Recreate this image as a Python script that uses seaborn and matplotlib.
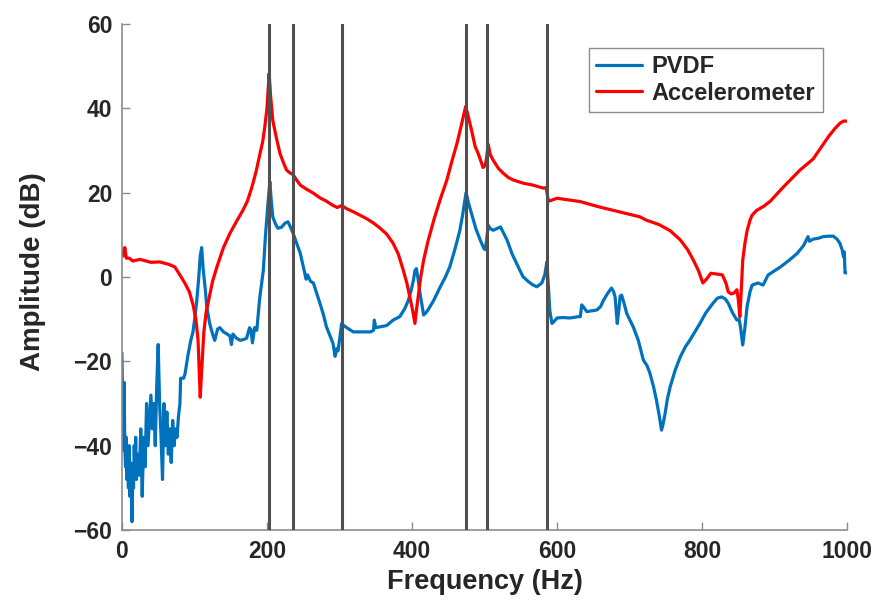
import numpy as np
import pandas as pd
import matplotlib
matplotlib.use("Agg")
import matplotlib.pyplot as plt
import seaborn as sns

# ---------------- data ----------------
acc_freq = [0, 2, 4, 6, 10, 15, 25, 40, 52, 65, 73, 80, 87, 93, 98, 102, 105, 108, 110,
            113, 116, 119, 125, 131, 140, 149, 158, 167, 173, 179, 185, 190, 194, 197,
            200, 203, 205, 208, 213, 218, 223, 227, 231, 236, 241, 246, 255, 264, 273,
            282, 291, 297, 303, 310, 319, 328, 338, 347, 356, 365, 374, 381, 388, 393,
            397, 401, 404, 406, 409, 412, 416, 422, 430, 439, 448, 455, 462, 468, 474,
            477, 482, 487, 491, 495, 498, 501, 503, 505, 508, 512, 519, 526, 533, 540,
            553, 567, 575, 581, 585, 588, 592, 600, 616, 632, 659, 690, 714, 723, 740,
            756, 770, 780, 788, 795, 801, 806, 812, 821, 828, 833, 836, 840, 844, 848,
            850, 852, 854, 856, 859, 862, 866, 869, 875, 885, 894, 910, 935, 953, 963,
            975, 983, 990, 995, 1000]
acc_db = [6.5, 5, 7, 4.5, 4.5, 3.8, 4.2, 3.5, 3.6, 3, 2.4, 0.5, -1.5, -3.5, -6.5, -10,
          -15, -28.5, -22, -13, -8.5, -6, -1, 2.4, 7, 10.4, 13.2, 15.9, 18, 21.2, 25, 29,
          32, 35.6, 40, 48.3, 43, 37.2, 33, 29.3, 27, 25.4, 24.8, 24.3, 23, 21.8, 20.8,
          19.9, 18.8, 18, 17, 16.5, 17, 16.2, 15.5, 14.7, 13.8, 12.8, 11.6, 10.2, 8, 5.5,
          1.6, -1.5, -4.7, -8, -11, -8, -3.9, 0, 4, 8.5, 13.5, 18.5, 23, 27.5, 31.7, 36,
          40.5, 38.5, 34.9, 31, 29.4, 27.5, 26, 26.5, 28.5, 31.5, 29, 27.7, 25.8, 24.6,
          23.6, 23, 22.3, 21.8, 21.4, 21.1, 21.2, 18, 18.2, 18.7, 18.3, 17.9, 16.6, 15.3,
          14.3, 13.5, 12.5, 11, 8.8, 6.5, 4, 1.5, -1.4, -0.5, 0.9, 0.7, 0.5, -1.5, -3.5,
          -4, -3.8, -3, -5.5, -9.4, -3, 4, 8, 11, 13.5, 14.7, 15.8, 16.8, 18, 21, 25.4,
          28, 30.5, 33.5, 35.2, 36.5, 37, 37]

pvdf_freq = [0, 1, 2, 3, 4, 5, 6, 7, 8, 9, 10, 11, 12, 13, 14, 15, 16, 17, 18, 19, 20,
             22, 24, 26, 28, 30, 32, 34, 36, 38, 40, 42, 44, 46, 48, 50, 52, 54, 56, 58,
             60, 62, 64, 66, 68, 70, 72, 74, 76, 78, 80, 81, 85, 87, 91, 95, 98, 101, 103,
             106, 108, 110, 112, 115, 117, 121, 125, 128, 132, 135, 140, 145, 149, 151,
             153, 158, 163, 168, 172, 176, 178, 180, 183, 186, 190, 193, 195, 198, 201,
             204, 206, 208, 212, 215, 220, 225, 229, 232, 236, 241, 246, 250, 252, 254,
             256, 260, 264, 268, 273, 278, 282, 286, 291, 294, 296, 298, 300, 303, 306,
             310, 319, 328, 338, 343, 347, 348, 350, 356, 365, 374, 383, 390, 395, 399,
             402, 404, 406, 408, 411, 414, 416, 419, 422, 430, 439, 446, 452, 459, 466,
             470, 474.5, 478, 482, 488, 494, 499, 501, 503, 505, 508, 512, 517, 522, 526,
             531, 538, 544, 549, 553, 560, 566, 572, 579, 583, 586, 588, 590, 593, 596,
             600, 608, 618, 625, 629, 632, 634, 636, 641, 648, 655, 660, 664, 670, 675,
             678, 680, 682, 683, 685, 687, 689, 692, 696, 700, 705, 712, 719, 724, 728,
             733, 737, 741, 744, 746, 749, 752, 756, 763, 770, 777, 783, 790, 797, 805,
             815, 821, 827, 832, 836, 842, 848, 851, 853, 856, 859, 862, 866, 869, 877,
             884, 891, 900, 908, 920, 931, 940, 946, 948, 953, 960, 967, 975, 981, 986,
             990, 993, 995, 996, 997, 1000]
pvdf_db = [-18, -30, -41, -25, -40, -45, -38, -48, -42, -50, -40, -52, -44, -47, -58,
           -45, -50, -40, -46, -38, -48, -42, -47, -36, -52, -38, -45, -30, -40, -34, -28,
           -36, -30, -40, -26, -16, -30, -38, -48, -30, -40, -32, -42, -36, -44, -34, -40,
           -36, -38, -33, -30, -24, -24, -23, -18.6, -15, -13, -9, -6, 0, 5, 7, 2, -3, -7,
           -11, -13.5, -15, -12.3, -12, -13, -13.5, -14, -16, -13.5, -14.5, -15, -14.8,
           -14.5, -12, -12.5, -15.6, -12, -12.6, -5, -1, 1.6, 10, 16.7, 22.6, 18, 14.3,
           12.5, 11.6, 11.8, 12.8, 13.1, 12, 10.4, 8, 5.6, 2.5, 1, -0.5, 0.5, -1, -1.4,
           -3.5, -6.2, -9, -11.8, -13.5, -15.7, -18.8, -17, -17.5, -15, -11, -11.5, -12,
           -13, -13, -13, -13, -12.6, -10.2, -12, -11.8, -11.5, -10.2, -9.4, -7.5, -5.5,
           -3, -0.7, 1.5, 2, 0, -3.8, -7, -9, -8.5, -7.8, -5.5, -2.3, 0, 2.4, 6.5, 11.1,
           15, 20, 17.5, 15.1, 11.5, 8.8, 6.8, 6.5, 9, 12.3, 11.5, 11.1, 11.5, 11.9, 10.5,
           8.8, 5.5, 3.3, 1.5, 0.1, -1, -1.8, -2.3, -1.4, 0.5, 3.6, -2, -8, -11, -10.5,
           -9.7, -9.6, -9.7, -9.5, -9.4, -9.4, -6.6, -7, -8.2, -8, -7.8, -7, -5.5, -3.8,
           -2.6, -3.5, -4.7, -9, -11, -8, -4.5, -4.3, -6, -8.6, -10, -11.8, -15, -19.7,
           -21, -22.8, -26, -29.2, -33, -36.3, -35, -32.3, -29, -26, -22, -18.9, -16.5,
           -15, -13, -11, -8.5, -6.2, -5, -4.7, -5.2, -6.2, -8.5, -10.2, -10, -12, -16.1,
           -12, -7, -3.5, -1.9, -1.4, -1.9, 0.5, 1.5, 2.4, 4, 5.6, 7.5, 9.6, 8.5, 9, 9.2,
           9.6, 9.7, 9.7, 9, 8, 6.5, 4.8, 6, 1, 1]

mode_freqs = [203, 236, 303, 474.5, 503.5, 586.5]

series_names = ["PVDF", "Accelerometer"]
x_ticks = [0, 200, 400, 600, 800, 1000]
y_ticks = [-60, -40, -20, 0, 20, 40, 60]

# ---------------- build long-form table ----------------
df = pd.concat([
    pd.DataFrame({"Frequency": pvdf_freq, "Amplitude": pvdf_db, "Sensor": series_names[0]}),
    pd.DataFrame({"Frequency": acc_freq, "Amplitude": acc_db, "Sensor": series_names[1]}),
], ignore_index=True)

sns.set_style("white")
plt.rcParams["font.family"] = ["Liberation Sans", "DejaVu Sans"]
plt.rcParams["font.weight"] = "bold"

fig = plt.figure(figsize=(8.77, 6.03), dpi=100)
ax = fig.add_axes([0.139, 0.121, 0.827, 0.839])

for f in mode_freqs:
    ax.axvline(f, color="#505050", lw=2.2, zorder=3)

sns.lineplot(data=df, x="Frequency", y="Amplitude", hue="Sensor",
             palette={"PVDF": "#0072BD", "Accelerometer": "#FF0000"},
             estimator=None, sort=False, lw=2.3, ax=ax, zorder=2)

ax.set_xlim(0, 1000)
ax.set_ylim(-60, 60)
ax.set_xticks(x_ticks)
ax.set_yticks(y_ticks)
ax.tick_params(direction="in", length=6, width=1, color="#8c8c8c",
               labelsize=16.5, pad=7, bottom=True, left=True)
for lab in ax.get_xticklabels() + ax.get_yticklabels():
    lab.set_fontweight("bold")
ax.set_xlabel("Frequency (Hz)", fontsize=19.5, fontweight="bold")
ax.set_ylabel("Amplitude (dB)", fontsize=20, fontweight="bold")
ax.xaxis.set_label_coords(0.5, -0.078)
ax.yaxis.set_label_coords(-0.105, 0.51)

for s in ["top", "right"]:
    ax.spines[s].set_visible(False)
for s in ["left", "bottom"]:
    ax.spines[s].set_color("#8c8c8c")
    ax.spines[s].set_linewidth(1.2)

handles, labels = ax.get_legend_handles_labels()
leg = ax.legend(handles, labels, loc="upper right", bbox_to_anchor=(0.966, 0.953),
                bbox_transform=ax.transAxes, borderaxespad=0, frameon=True,
                fancybox=False, edgecolor="#8c8c8c", framealpha=1,
                prop={"size": 17, "weight": "bold"}, handlelength=1.95,
                handletextpad=0.4, labelspacing=0.15, borderpad=0.3)
leg.get_frame().set_linewidth(1.0)
for line in leg.get_lines():
    line.set_linewidth(2.3)

fig.savefig("out.png", dpi=100)
